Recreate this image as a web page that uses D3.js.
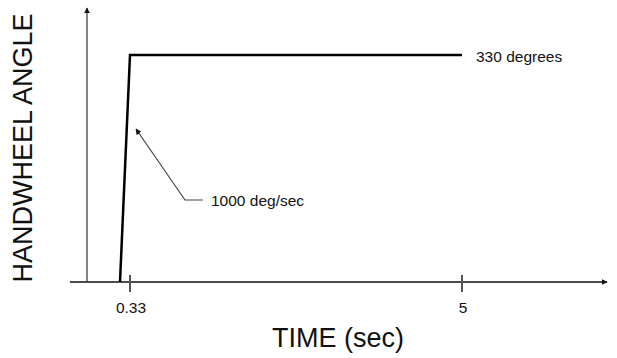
<!DOCTYPE html>
<html>
<head>
<meta charset="utf-8">
<script src="https://cdn.jsdelivr.net/npm/d3@7/dist/d3.min.js"></script>
<style>
  html, body { margin: 0; padding: 0; background: #fff; }
  svg text { font-family: "Liberation Sans", Arial, sans-serif; fill: #111; }
</style>
</head>
<body>
<div id="chart"></div>
<script>
// handwheel step input: time (sec) vs angle (deg)
const times = [0, 0.33, 5];
const angles = [0, 330, 330];
const tickValues = [0.33, 5];
const tickLabels = ["0.33", "5"];
const finalLabel = "330 degrees";
const rateLabel = "1000 deg/sec";

const width = 617, height = 358;

const svg = d3.select("#chart")
  .append("svg")
  .attr("width", width)
  .attr("height", height);

// schematic time axis (not drawn to scale in the original)
const x = d3.scaleLinear()
  .domain([0, 0.33, 5])
  .range([120, 130, 462]);

const y = d3.scaleLinear()
  .domain([0, 330])
  .range([282, 55]);

const originX = 87, axisLeft = 70, axisRight = 607, axisTop = 8;

// arrow markers
const defs = svg.append("defs");
defs.append("marker")
  .attr("id", "tip")
  .attr("viewBox", "0 0 10 10")
  .attr("refX", 9).attr("refY", 5)
  .attr("markerWidth", 6).attr("markerHeight", 6)
  .attr("markerUnits", "userSpaceOnUse")
  .attr("orient", "auto")
  .append("path")
  .attr("d", "M0,0 L10,5 L0,10 z")
  .attr("fill", "#111");

// x axis line
svg.append("line")
  .attr("x1", axisLeft).attr("x2", axisRight)
  .attr("y1", y(0)).attr("y2", y(0))
  .attr("stroke", "#111").attr("stroke-width", 1.5)
  .attr("marker-end", "url(#tip)");

// y axis line
svg.append("line")
  .attr("x1", originX).attr("x2", originX)
  .attr("y1", y(0)).attr("y2", axisTop)
  .attr("stroke", "#333").attr("stroke-width", 1.2)
  .attr("marker-end", "url(#tip)");

// ticks
const ticks = svg.append("g");
ticks.selectAll("line")
  .data(tickValues)
  .enter()
  .append("line")
  .attr("x1", d => x(d)).attr("x2", d => x(d))
  .attr("y1", y(0) - 7).attr("y2", y(0) + 10)
  .attr("stroke", "#555").attr("stroke-width", 2);

ticks.selectAll("text")
  .data(tickValues)
  .enter()
  .append("text")
  .attr("x", d => x(d) + 1)
  .attr("y", 313)
  .attr("text-anchor", "middle")
  .attr("font-size", 15.5)
  .text((d, i) => tickLabels[i]);

// data line
const line = d3.line()
  .x((d, i) => x(times[i]))
  .y(d => y(d));

svg.append("path")
  .datum(angles)
  .attr("fill", "none")
  .attr("stroke", "#000")
  .attr("stroke-width", 2.5)
  .attr("stroke-linejoin", "miter")
  .attr("d", line);

// final value label
svg.append("text")
  .attr("x", x(5) + 14)
  .attr("y", y(330) + 7)
  .attr("font-size", 15.5)
  .text(finalLabel);

// rate annotation with leader
svg.append("path")
  .attr("d", `M203,200 L185,200 L136,129`)
  .attr("fill", "none")
  .attr("stroke", "#444")
  .attr("stroke-width", 1.2)
  .attr("marker-end", "url(#tip)");

svg.append("text")
  .attr("x", 211)
  .attr("y", 206)
  .attr("font-size", 15.5)
  .text(rateLabel);

// axis titles
svg.append("text")
  .attr("transform", "translate(32,148) rotate(-90)")
  .attr("text-anchor", "middle")
  .attr("font-size", 27)
  .text("HANDWHEEL ANGLE");

svg.append("text")
  .attr("x", 338)
  .attr("y", 347)
  .attr("text-anchor", "middle")
  .attr("font-size", 27)
  .text("TIME (sec)");
</script>
</body>
</html>
